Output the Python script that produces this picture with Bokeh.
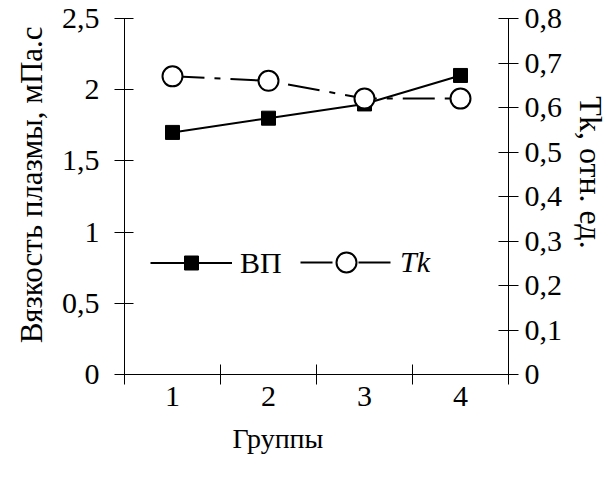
from bokeh.plotting import figure
from bokeh.models import (Range1d, LinearAxis, FixedTicker, CustomJSTickFormatter,
                          Legend, LegendItem)
from bokeh.embed import file_html
from bokeh.resources import INLINE

# ---- data ----
groups = [1, 2, 3, 4]
group_labels = ["1", "2", "3", "4"]
vp = [1.7, 1.8, 1.9, 2.1]          # Вязкость плазмы, мПа.с
tk = [0.67, 0.66, 0.62, 0.62]      # Tk, отн. ед.
left_ticks = [0, 0.5, 1, 1.5, 2, 2.5]
right_ticks = [0, 0.1, 0.2, 0.3, 0.4, 0.5, 0.6, 0.7, 0.8]
group_bounds = [0.5, 1.5, 2.5, 3.5, 4.5]

FONT = "'Liberation Serif', 'Times New Roman', 'DejaVu Serif', serif"
FS = "30px"
NB = "\u00a0"   # non-breaking spaces used to nudge axis titles along their axis

p = figure(width=612, height=478, output_backend="svg", toolbar_location=None,
           x_range=Range1d(0.5, 4.5), y_range=Range1d(0, 2.5),
           min_border_left=124, min_border_right=97, min_border_top=18,
           min_border_bottom=104)
p.outline_line_color = None
p.xgrid.visible = False
p.ygrid.visible = False
p.background_fill_color = "white"
p.border_fill_color = "white"

comma = CustomJSTickFormatter(code="return tick.toString().replace('.', ',');")

# x axis
xa = p.xaxis[0]
xa.ticker = FixedTicker(ticks=groups, minor_ticks=group_bounds)
xa.major_label_overrides = {g: l for g, l in zip(groups, group_labels)}
xa.major_tick_in = 0
xa.major_tick_out = 0
xa.minor_tick_in = 10
xa.minor_tick_out = 10
xa.minor_tick_line_color = "black"
xa.axis_label = "Группы" + NB * 11

# left axis
ya = p.yaxis[0]
ya.ticker = FixedTicker(ticks=left_ticks)
ya.formatter = comma
ya.major_tick_in = 9
ya.major_tick_out = 10
ya.minor_tick_line_color = None
ya.axis_label = NB * 3 + "Вязкость плазмы, мПа.с"

# right axis
p.extra_y_ranges = {"tk": Range1d(0, 0.8)}
ra = LinearAxis(y_range_name="tk", ticker=FixedTicker(ticks=right_ticks), formatter=comma,
                axis_label="Tk, отн. ед." + NB * 6)
ra.major_tick_in = 10
ra.major_tick_out = 10
ra.minor_tick_line_color = None
p.add_layout(ra, "right")

for ax in (xa, ya, ra):
    ax.axis_line_color = "black"
    ax.major_tick_line_color = "black"
    ax.major_label_text_font = FONT
    ax.major_label_text_font_size = FS
    ax.major_label_text_color = "black"
    ax.axis_label_text_font = FONT
    ax.axis_label_text_font_style = "normal"
    ax.axis_label_text_color = "black"
xa.axis_label_text_font_size = "28px"
ya.axis_label_text_font_size = "31px"
ra.axis_label_text_font_size = "32px"
xa.major_label_standoff = 2
ya.major_label_standoff = 15
ra.major_label_standoff = 6
xa.axis_label_standoff = 14
ya.axis_label_standoff = 10
ra.axis_label_standoff = 8

# data series
l1 = p.line(groups, vp, line_color="black", line_width=2)
m1 = p.scatter(groups, vp, marker="square", size=14, fill_color="black", line_color="black")
l2 = p.line(groups, tk, y_range_name="tk", line_color="black", line_width=2,
            line_dash="32 10 6 10")
m2 = p.scatter(groups, tk, y_range_name="tk", marker="circle", size=20,
               fill_color="white", line_color="black", line_width=2)

leg1 = Legend(items=[LegendItem(label="ВП", renderers=[l1, m1])],
              location=(26, 94), orientation="horizontal",
              glyph_width=82, glyph_height=35, label_standoff=8, padding=0, margin=0,
              border_line_color=None, background_fill_alpha=0,
              label_text_font=FONT, label_text_font_size=FS, label_text_color="black")
leg2 = Legend(items=[LegendItem(label="Tk", renderers=[l2, m2])],
              location=(176, 87), orientation="horizontal",
              glyph_width=92, glyph_height=50, label_standoff=8, padding=0, margin=0,
              border_line_color=None, background_fill_alpha=0,
              label_text_font=FONT, label_text_font_size=FS, label_text_color="black",
              label_text_font_style="italic")
p.add_layout(leg1, "center")
p.add_layout(leg2, "center")

open("out.html", "w").write(file_html(p, INLINE))
